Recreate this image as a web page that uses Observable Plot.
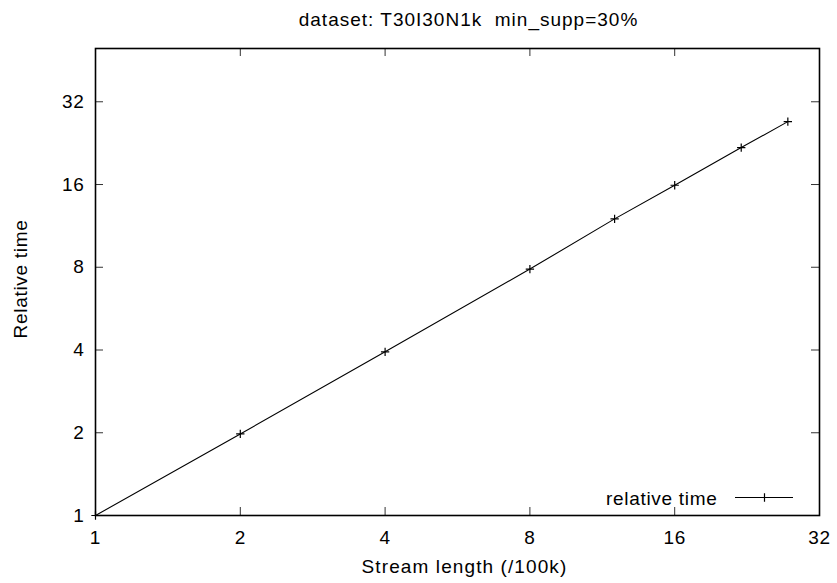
<!DOCTYPE html>
<html>
<head>
<meta charset="utf-8">
<script src="https://cdn.jsdelivr.net/npm/d3@7"></script>
<script src="https://cdn.jsdelivr.net/npm/@observablehq/plot@0.6"></script>
<style>
  html, body { margin: 0; padding: 0; background: #fff; }
  #chart { width: 837px; height: 583px; }
  #chart text { letter-spacing: 0.7px; }
  #chart .ttl text { letter-spacing: 1px; }
  #chart .xl text { letter-spacing: 1.1px; }
</style>
</head>
<body>
<div id="chart"></div>
<script>
const titleText = "dataset: T30I30N1k  min_supp=30%";
const xLabel = "Stream length (/100k)";
const yLabel = "Relative time";
const seriesName = "relative time";

const streamLength = [1, 2, 4, 8, 12, 16, 22, 27.5];
const relativeTime = [1, 1.98, 3.94, 7.88, 12.0, 15.9, 21.8, 27.1];

const xTicks = [1, 2, 4, 8, 16, 32];
const yTicks = [1, 2, 4, 8, 16, 32];

const data = streamLength.map((x, i) => ({x, y: relativeTime[i]}));

const W = 837, H = 583;
const mL = 95, mR = 18, mT = 48, mB = 68;
const fw = W - mL - mR, fh = H - mT - mB;
const tk = 8;
const fs = 19;

const chart = Plot.plot({
  width: W, height: H,
  marginLeft: mL, marginRight: mR, marginTop: mT, marginBottom: mB,
  style: {fontFamily: "'Liberation Sans', Arial, sans-serif", fontSize: fs + "px", color: "#000", background: "#fff"},
  x: {type: "log", base: 2, domain: [1, 32], label: null},
  y: {type: "log", base: 2, domain: [1, 50], label: null},
  marks: [
    // ticks inward on all four sides
    Plot.ruleX(xTicks, {x: d => d, insetTop: fh - tk, stroke: "#333", strokeWidth: 1}),
    Plot.ruleX(xTicks, {x: d => d, insetBottom: fh - tk, stroke: "#333", strokeWidth: 1}),
    Plot.ruleY(yTicks, {y: d => d, insetRight: fw - tk, stroke: "#333", strokeWidth: 1}),
    Plot.ruleY(yTicks, {y: d => d, insetLeft: fw - tk, stroke: "#333", strokeWidth: 1}),
    Plot.axisX(xTicks, {tickSize: 0, tickPadding: 15, tickFormat: d => d, label: null, fontSize: fs}),
    Plot.axisY(yTicks, {tickSize: 0, tickPadding: 11, tickFormat: d => d, label: null, fontSize: fs}),
    Plot.frame({stroke: "#000", strokeWidth: 1.6}),
    Plot.line(data, {x: "x", y: "y", stroke: "#000", strokeWidth: 1.1}),
    Plot.dot(data, {x: "x", y: "y", symbol: "plus", r: 2.8, stroke: "#000", strokeWidth: 1.2}),
    // legend
    Plot.text([seriesName], {frameAnchor: "bottom-right", dx: -102, dy: -17, textAnchor: "end", lineAnchor: "middle", fontSize: fs}),
    Plot.ruleY([1], {y: d => d, dy: -18, insetLeft: 640, insetRight: 26, stroke: "#000", strokeWidth: 1.1}),
    Plot.dot([0], {frameAnchor: "bottom-right", dx: -55, dy: -18, symbol: "plus", r: 2.8, stroke: "#000", strokeWidth: 1.2}),
    // title and axis labels
    Plot.text([titleText], {frameAnchor: "top", dx: 11, dy: -29, textAnchor: "middle", lineAnchor: "middle", fontSize: fs, className: "ttl"}),
    Plot.text([xLabel], {frameAnchor: "bottom", dx: 7, dy: 51, textAnchor: "middle", lineAnchor: "middle", fontSize: fs, className: "xl"}),
    Plot.text([yLabel], {frameAnchor: "left", dx: -75, dy: -3, rotate: -90, textAnchor: "middle", lineAnchor: "middle", fontSize: fs})
  ]
});
document.getElementById("chart").appendChild(chart);
</script>
</body>
</html>
